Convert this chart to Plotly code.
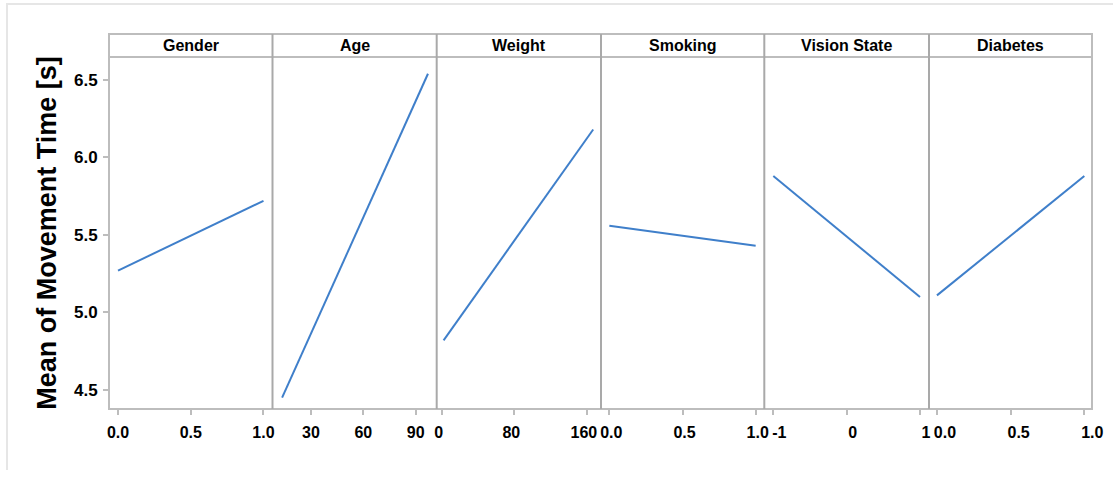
import plotly.graph_objects as go

# Main-effects data: each factor's level values and the mean movement time
panel_titles = ["Gender", "Age", "Weight", "Smoking", "Vision State", "Diabetes"]
gender_x = [0, 1]
gender_y = [5.27, 5.72]
age_x = [13.5, 97]
age_y = [4.45, 6.54]
weight_x = [2, 167]
weight_y = [4.82, 6.18]
smoking_x = [0, 1]
smoking_y = [5.56, 5.43]
vision_x = [-1, 1]
vision_y = [5.88, 5.10]
diabetes_x = [0, 1]
diabetes_y = [5.11, 5.88]

x_tickvals = [[0, 0.5, 1], [30, 60, 90], [0, 80, 160], [0, 0.5, 1], [-1, 0, 1], [0, 0.5, 1]]
x_ticktext = [["0.0", "0.5", "1.0"], ["30", "60", "90"], ["0", "80", "160"],
              ["0.0", "0.5", "1.0"], ["-1", "0", "1"], ["0.0", "0.5", "1.0"]]
x_ranges = [[-0.062, 1.062], [8, 102], [-5.6, 175.6], [-0.057, 1.059],
            [-1.123, 1.123], [-0.054, 1.052]]
y_ticks = [4.5, 5.0, 5.5, 6.0, 6.5]
y_range = [4.377, 6.648]

series = [(gender_x, gender_y), (age_x, age_y), (weight_x, weight_y),
          (smoking_x, smoking_y), (vision_x, vision_y), (diabetes_x, diabetes_y)]

# small horizontal nudges so neighbouring panels' tick labels do not collide
label_shift = [0, 0, -3, 2, 6, 8]

W, H = 1113, 477
L, R, T, B = 109, 21, 57, 68
plot_w = W - L - R
plot_h = H - T - B
edges_px = [109, 272.5, 436.7, 601, 764.3, 929, 1092]
domains = [[(edges_px[i] - L) / plot_w, (edges_px[i + 1] - L) / plot_w] for i in range(6)]

FONT = "Liberation Sans, Arial, sans-serif"
LINE_BLUE = "#3f7fca"
GRID_GRAY = "#bdbdbd"
DIV_GRAY = "#a9a9a9"

fig = go.Figure()
layout = dict(
    width=W, height=H,
    margin=dict(l=L, r=R, t=T, b=B, autoexpand=False),
    paper_bgcolor="white", plot_bgcolor="white",
    showlegend=False,
    font=dict(family=FONT, color="black"),
)

for i, (xs, ys) in enumerate(series):
    sfx = "" if i == 0 else str(i + 1)
    fig.add_trace(go.Scatter(x=xs, y=ys, mode="lines",
                             line=dict(color=LINE_BLUE, width=2),
                             xaxis="x" + sfx, yaxis="y" + sfx))
    layout["xaxis" + sfx] = dict(
        domain=domains[i], range=x_ranges[i], anchor="y" + sfx, automargin=False,
        tickvals=x_tickvals[i], ticktext=x_ticktext[i],
        ticks="outside", ticklen=5, tickwidth=2, tickcolor=GRID_GRAY,
        ticklabelstandoff=4, ticklabelshift=label_shift[i],
        tickfont=dict(family=FONT, size=16, color="black", weight="bold"),
        showgrid=False, zeroline=False, showline=False, fixedrange=True,
    )
    ydict = dict(
        domain=[0, 1], range=y_range, anchor="x" + sfx, automargin=False,
        showgrid=False, zeroline=False, showline=False, fixedrange=True,
    )
    if i == 0:
        ydict.update(
            tickvals=y_ticks, ticktext=[f"{v:.1f}" for v in y_ticks],
            ticks="outside", ticklen=5, tickwidth=2, tickcolor=GRID_GRAY,
            ticklabelstandoff=2,
            tickfont=dict(family=FONT, size=17, color="black", weight="bold"),
            title=dict(text="Mean of Movement Time [s]", standoff=9,
                       font=dict(family=FONT, size=27, color="black", weight="bold")),
        )
    else:
        ydict.update(showticklabels=False, ticks="", matches="y")
    layout["yaxis" + sfx] = ydict

fig.update_layout(**layout)

strip_top = 1 + (57 - 34) / plot_h
shapes = []
# frame of the plotting region plus header strip
shapes.append(dict(type="rect", xref="paper", yref="paper", x0=0, x1=1, y0=0, y1=strip_top,
                   line=dict(color=GRID_GRAY, width=2), fillcolor="rgba(0,0,0,0)"))
shapes.append(dict(type="line", xref="paper", yref="paper", x0=0, x1=1, y0=1, y1=1,
                   line=dict(color=GRID_GRAY, width=2)))
# panel dividers
for d in domains[1:]:
    shapes.append(dict(type="line", xref="paper", yref="paper", x0=d[0], x1=d[0],
                       y0=0, y1=strip_top, line=dict(color=DIV_GRAY, width=2)))
# outer picture border (top and left)
shapes.append(dict(type="line", xref="paper", yref="paper",
                   x0=(6 - L) / plot_w, x1=(W - L) / plot_w,
                   y0=1 + (T - 4) / plot_h, y1=1 + (T - 4) / plot_h,
                   line=dict(color="#e6e6e6", width=2)))
shapes.append(dict(type="line", xref="paper", yref="paper",
                   x0=(7 - L) / plot_w, x1=(7 - L) / plot_w,
                   y0=-(B - 7) / plot_h, y1=1 + (T - 4) / plot_h,
                   line=dict(color="#e6e6e6", width=2)))

annotations = []
for i, title in enumerate(panel_titles):
    annotations.append(dict(text=title, xref="paper", yref="paper",
                            x=(domains[i][0] + domains[i][1]) / 2,
                            y=(1 + strip_top) / 2, showarrow=False,
                            xanchor="center", yanchor="middle",
                            font=dict(family=FONT, size=16, color="black", weight="bold")))

fig.update_layout(shapes=shapes, annotations=annotations)
fig.write_html("out.html")
